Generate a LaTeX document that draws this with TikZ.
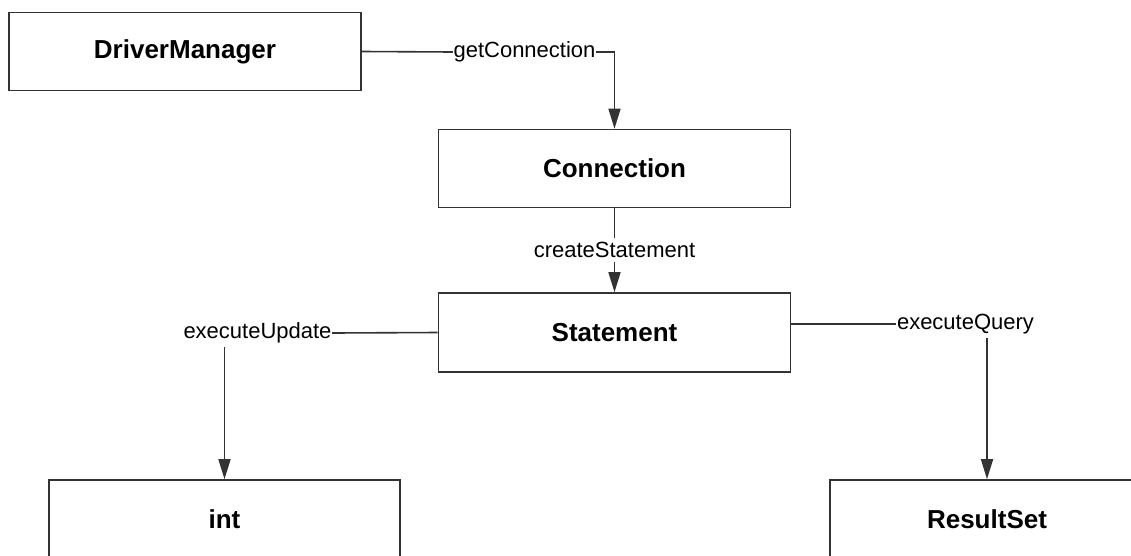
\documentclass[tikz,border=0pt]{standalone}
\usepackage{fontspec}
\setmainfont{Liberation Sans}
\usepackage{tikz}
\usetikzlibrary{arrows.meta, positioning, calc}
\usepackage{xcolor}

\begin{document}
\begin{tikzpicture}[
    x=1pt, y=-1pt,
    box/.style={rectangle, draw=black!80, line width=1.6pt, fill=white, minimum width=352pt, minimum height=78pt, inner sep=0pt, align=center, font=\fontsize{26}{30}\selectfont\bfseries},
    lbl/.style={inner xsep=0.5pt, inner ysep=4pt, font=\fontsize{22}{26}\selectfont},
    line/.style={draw=black!80, line width=1.6pt},
    arrow/.style={line, -{Triangle[length=20pt, width=12pt]}}
]
\useasboundingbox (0,0) rectangle (1131,555);

\node[box] (manager) at (185,51.5) {DriverManager};
\node[box] (conn) at (614.5,168.5) {Connection};
\node[box, minimum height=79pt] (stmt) at (614.5,332.5) {Statement};
\node[box, minimum width=351pt] (intres) at (224.5,519) {int};
\node[box, minimum width=314pt] (rset) at (987,519) {ResultSet};

\node[lbl] (getconn) at (524.5,52) {getConnection};
\node[lbl] (update) at (257.5,333) {executeUpdate};
\node[lbl] (query) at (965.5,324) {executeQuery};

\draw[line] (manager.east) -- (getconn.west);
\draw[arrow] (getconn.east) -| (conn.north);
\draw[arrow] (conn.south) -- node[lbl, fill=white] {createStatement} (stmt.north);
\draw[line] (stmt.west) -- (update.east);
\draw[arrow] (update.south -| intres.north) -- (intres.north);
\draw[line] (stmt.east |- query.west) -- (query.west);
\draw[arrow] (query.south -| rset.north) -- (rset.north);
\end{tikzpicture}
\end{document}
